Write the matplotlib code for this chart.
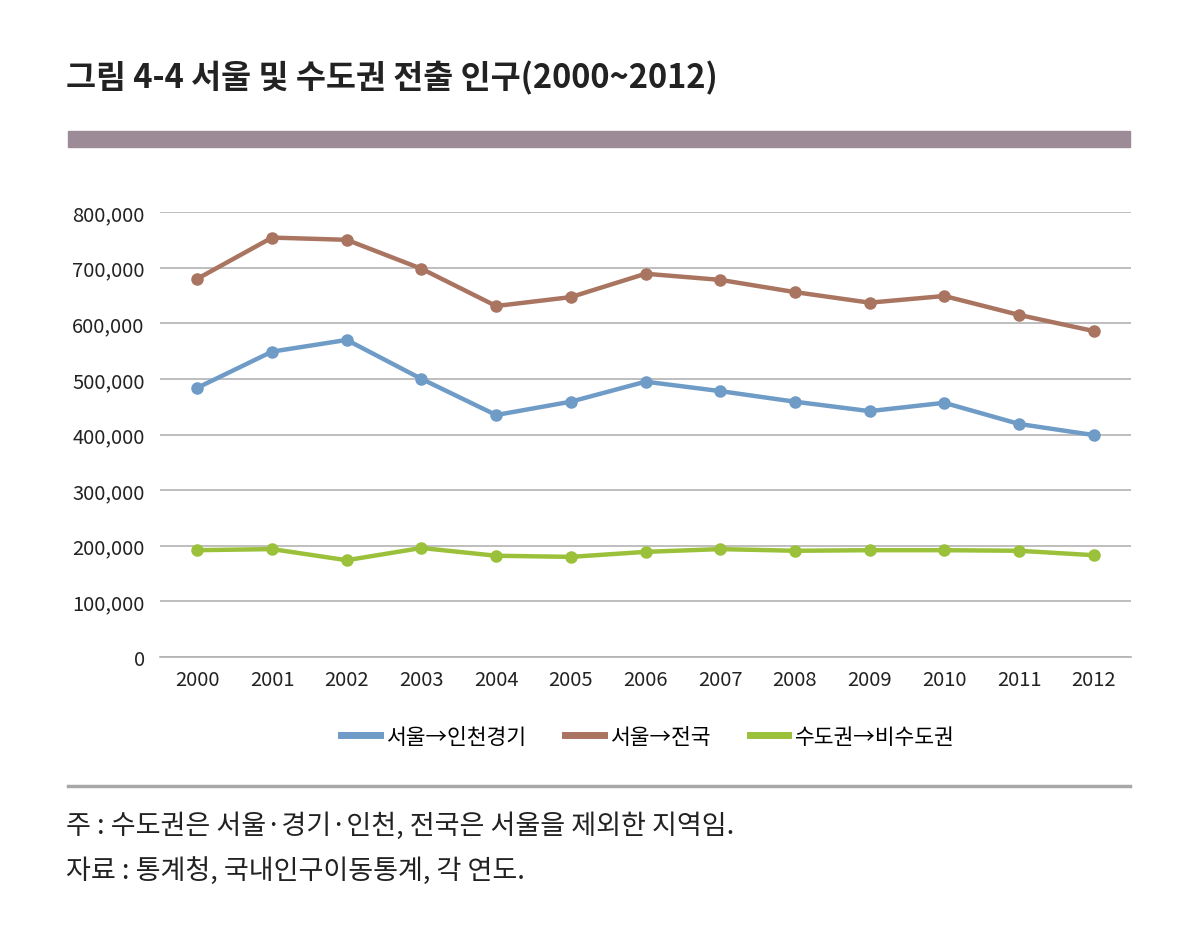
import numpy as np
import matplotlib.pyplot as plt
from matplotlib.lines import Line2D

plt.rcParams['font.family'] = ['Noto Sans CJK KR', 'DejaVu Sans']

years = ['2000', '2001', '2002', '2003', '2004', '2005', '2006',
         '2007', '2008', '2009', '2010', '2011', '2012']
seoul_incheon = [484000, 549000, 570000, 500000, 435000, 459000, 495000,
                 478000, 459000, 442000, 457000, 419000, 399000]
seoul_nation = [680000, 754000, 750000, 698000, 631000, 647000, 689000,
                678000, 656000, 637000, 649000, 615000, 586000]
capital_noncap = [192000, 194000, 174000, 196000, 182000, 180000, 189000,
                  194000, 191000, 192000, 192000, 191000, 183000]
labels = ['서울→인천경기', '서울→전국', '수도권→비수도권']
colors = ['#6f9bc7', '#a97460', '#9bc13a']

W, H = 1181, 945
fig = plt.figure(figsize=(W / 100, H / 100), dpi=100)

# axes in pixel coords
l, r, t, b = 160, 1131, 213, 658
ax = fig.add_axes([l / W, 1 - b / H, (r - l) / W, (b - t) / H])

x = np.arange(len(years))
for vals, c in zip([seoul_incheon, seoul_nation, capital_noncap], colors):
    ax.plot(x, vals, color=c, lw=3.2, marker='o', ms=8, zorder=3)

ax.set_xlim(-0.5, 12.5)
ax.set_ylim(0, 800000)
ax.set_yticks(range(0, 800001, 100000))
ax.set_yticklabels(['0'] + [f'{v:,}' for v in range(100000, 800001, 100000)])
ax.set_xticks(x)
ax.set_xticklabels(years)
ax.grid(axis='y', color='#b3b3b3', lw=1.2)
ax.set_axisbelow(True)
for s in ['top', 'right', 'left']:
    ax.spines[s].set_visible(False)
ax.spines['bottom'].set_color('#b3b3b3')
ax.spines['bottom'].set_linewidth(1.2)
ax.tick_params(length=0, labelsize=14.5, colors='#222222')
ax.tick_params(axis='x', pad=9)
ax.tick_params(axis='y', pad=11)

handles = [Line2D([], [], color=c, lw=5) for c in colors]
fig.legend(handles, labels, loc='center', bbox_to_anchor=(648 / W, 1 - 738 / H),
           ncol=3, frameon=False, fontsize=15.5, handlelength=1.8,
           handletextpad=0.3, columnspacing=1.8)

# title and decorations
fig.text(66 / W, 1 - 78 / H, '그림 4-4 서울 및 수도권 전출 인구(2000~2012)',
         fontsize=23.5, fontweight='bold', color='#222222', va='center')
fig.patches.append(plt.Rectangle((68 / W, 1 - 148 / H), (1130 - 68) / W, 16 / H,
                                 transform=fig.transFigure, color='#9e8b98'))
fig.lines.append(Line2D([68 / W, 1130 / W], [1 - 787 / H, 1 - 787 / H],
                        transform=fig.transFigure, color='#a8a8a8', lw=2.5))

fig.text(66 / W, 1 - 826 / H, '주 : 수도권은 서울·경기·인천, 전국은 서울을 제외한 지역임.',
         fontsize=19.5, color='#222222', va='center')
fig.text(66 / W, 1 - 871 / H, '자료 : 통계청, 국내인구이동통계, 각 연도.',
         fontsize=19.5, color='#222222', va='center')

fig.savefig('out.png', dpi=100, facecolor='white')
